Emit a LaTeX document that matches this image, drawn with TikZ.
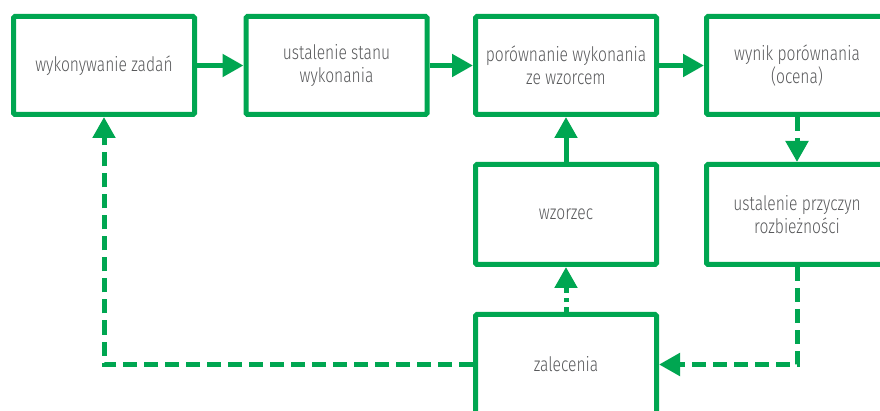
\documentclass[tikz,border=0pt]{standalone}
\usepackage{fontspec}
\IfFontExistsTF{Fira Sans Light}
  {\setmainfont{Fira Sans Light}[FakeStretch=0.78]}
  {\setmainfont{Fira Sans}[FakeStretch=0.76]}
\usetikzlibrary{arrows.meta}
\definecolor{flowgreen}{RGB}{0,166,81}
\definecolor{labelgrey}{RGB}{88,89,91}

\begin{document}
\begin{tikzpicture}[x=1pt,y=-1pt,
  box/.style={draw=flowgreen, line width=5pt, rounded corners=1.5pt,
    minimum width=181pt, minimum height=100pt, inner sep=0pt,
    align=center, text=labelgrey, font=\fontsize{20}{22.5}\selectfont},
  tip/.style={-{Triangle[length=21pt,width=22pt]}},
  flow/.style={draw=flowgreen, line width=5pt, tip},
  feedback/.style={flow, dash pattern=on 14pt off 7pt},
  hint/.style={flow, dash pattern=on 4.5pt off 5pt},
]
\useasboundingbox (0,0) rectangle (880,411);
\clip (0,0) rectangle (880,411);

% top row: the main control loop
\node[box, minimum height=98pt] (tasks)   at (104,65.5)   {wykonywanie zadań};
\node[box, minimum height=98pt] (state)   at (336.5,65.5) {ustalenie stanu\\wykonania};
\node[box, minimum height=98pt] (compare) at (566,65.5)   {porównanie wykonania\\ze wzorcem};
\node[box, minimum height=98pt] (result)  at (797,65.5)   {wynik porównania\\(ocena)};

% second row
\node[box] (pattern) at (566,214.5) {wzorzec};
\node[box] (causes)  at (797,214.5) {ustalenie przyczyn\\rozbieżności};

% third row
\node[box] (advice) at (566,364.5) {zalecenia};

% solid flow
\draw[flow] (tasks) -- (state);
\draw[flow] (state) -- (compare);
\draw[flow] (compare) -- (result);
\draw[flow] (pattern) -- (compare);

% feedback paths
\draw[feedback] (result) -- (causes);
\draw[feedback] (causes.south) |- (advice.east);
\draw[feedback] (advice.west) -| (tasks.south);
\draw[hint] (advice) -- (pattern);
\end{tikzpicture}
\end{document}
